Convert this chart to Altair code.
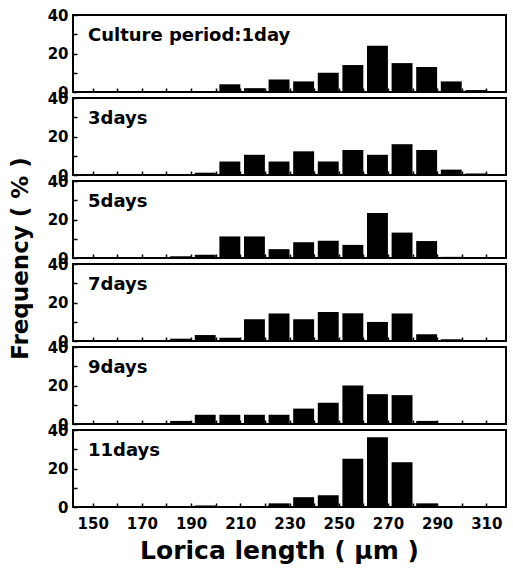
import altair as alt
import pandas as pd

# Lower edge of each 10-µm class (bars span the class up to the next tick)
bins = [180, 190, 200, 210, 220, 230, 240, 250, 260, 270, 280, 290, 300]

panel_labels = ["Culture period:1day", "3days", "5days", "7days", "9days", "11days"]

day1 = [0, 0.5, 4, 2, 6.5, 5.5, 10, 14, 24, 15, 13, 5.5, 1]
day3 = [0, 1.2, 7, 10.5, 7, 12.3, 7, 13, 10.5, 16, 13, 2.8, 0.8]
day5 = [0.9, 1.7, 11.2, 11.2, 4.6, 8.2, 8.9, 6.8, 23.4, 13.2, 8.8, 0.6, 0]
day7 = [1.2, 3.1, 1.7, 11.3, 14.3, 11.3, 15.1, 14.4, 9.9, 14.3, 3.5, 0.9, 0]
day9 = [1.6, 4.8, 4.8, 4.8, 4.8, 8, 11, 20, 15.5, 15, 1.6, 0.4, 0]
day11 = [0, 0.8, 0, 0, 1.9, 5.1, 6.1, 25.1, 36.2, 23.2, 1.9, 0, 0]

series = [day1, day3, day5, day7, day9, day11]

x_ticks = list(range(150, 320, 10))
y_ticks = [0, 10, 20, 30, 40]

rows = []
for lab, vals in zip(panel_labels, series):
    for b, v in zip(bins, vals):
        rows.append({"panel": lab, "bin": b, "pct": v})
df = pd.DataFrame(rows)

FONT = "DejaVu Sans"


def make_panel(i, label):
    bottom = i == len(panel_labels) - 1
    if bottom:
        xaxis = alt.Axis(
            values=x_ticks, offset=-4, tickSize=4, domain=False,
            labelExpr="(datum.value - 150) % 20 == 0 ? datum.label : ''",
            labelPadding=9, labelOverlap=False, labelFlush=False,
            title="Lorica length ( μm )", titlePadding=7, titleX=206, titleFontSize=25,
        )
    else:
        xaxis = alt.Axis(
            values=x_ticks, offset=-4, tickSize=4, domain=False,
            labels=False, title=None,
        )
    ykw = dict(
        values=y_ticks, offset=-4, tickSize=4, domain=False,
        labelExpr="datum.value % 20 == 0 ? datum.label : ''",
        labelPadding=5, labelOverlap=False, labelFlush=False,
    )
    if i == 2:
        yaxis = alt.Axis(title="Frequency ( % )", titlePadding=15, titleY=77, titleFontSize=23, **ykw)
    else:
        yaxis = alt.Axis(title=None, **ykw)

    base = (
        alt.Chart(df)
        .transform_filter(alt.datum.panel == label)
        .transform_calculate(x1="datum.bin + 1.5", x2="datum.bin + 10")
    )
    bars = base.mark_bar(color="black").encode(
        x=alt.X("x1:Q", scale=alt.Scale(domain=[142, 318], nice=False, zero=False), axis=xaxis),
        x2="x2:Q",
        y=alt.Y("pct:Q", scale=alt.Scale(domain=[0, 40], nice=False), axis=yaxis),
        y2=alt.datum(0),
    )
    text = alt.Chart(pd.DataFrame({"t": [label]})).mark_text(
        align="left", baseline="alphabetic", font=FONT, fontWeight="bold",
        fontSize=18, color="black",
    ).encode(text="t:N", x=alt.value(15), y=alt.value(26))
    return alt.layer(bars, text).properties(width=433, height=77)


panels = [make_panel(i, lab) for i, lab in enumerate(panel_labels)]

chart = (
    alt.vconcat(*panels, spacing=6, bounds="flush")
    .properties(padding={"left": 8, "top": 7, "right": 2, "bottom": 0}, background="white")
    .configure_view(stroke="black", strokeWidth=2)
    .configure_axis(
        labelFont=FONT, labelFontWeight="bold", labelFontSize=15, labelColor="black",
        tickColor="black", tickWidth=1.5,
        titleFont=FONT, titleFontWeight="bold", titleFontSize=26, titleColor="black",
        grid=False,
    )
)

chart.save("out.html", embed_options={"renderer": "svg", "actions": False})
